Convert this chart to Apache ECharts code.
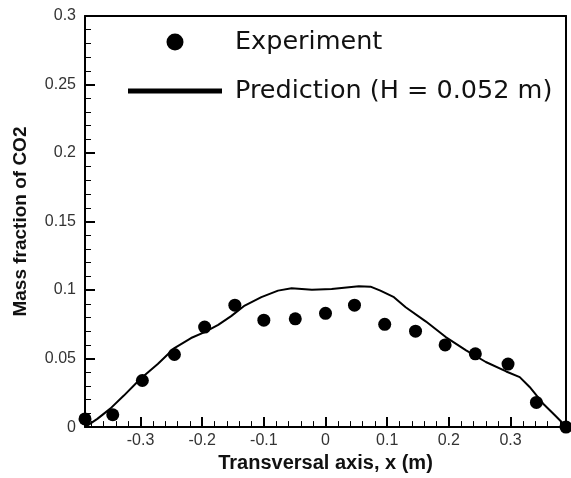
<!DOCTYPE html>
<html>
<head>
<meta charset="utf-8">
<script src="https://cdn.jsdelivr.net/npm/echarts@6/dist/echarts.min.js"></script>
<style>
html,body{margin:0;padding:0;background:#fff;}
#chart{width:571px;height:478px;}
</style>
</head>
<body>
<div id="chart"></div>
<script>
// Experiment points
var expX = [-0.39, -0.345, -0.297, -0.245, -0.196, -0.147, -0.1, -0.049, 0, 0.047, 0.096, 0.146, 0.194, 0.243, 0.296, 0.342, 0.39];
var expY = [0.006, 0.009, 0.034, 0.053, 0.073, 0.089, 0.078, 0.079, 0.083, 0.089, 0.075, 0.070, 0.060, 0.0535, 0.046, 0.018, 0.0];
// Prediction curve
var predX = [-0.39, -0.37, -0.349, -0.327, -0.3, -0.272, -0.245, -0.218, -0.196, -0.174, -0.153, -0.131, -0.104, -0.077, -0.055, -0.022, 0.010, 0.054, 0.073, 0.089, 0.111, 0.130, 0.163, 0.195, 0.228, 0.26, 0.293, 0.315, 0.331, 0.353, 0.372, 0.388, 0.39];
var predY = [0.0, 0.006, 0.0135, 0.023, 0.0353, 0.046, 0.0577, 0.065, 0.0693, 0.0746, 0.081, 0.0887, 0.0948, 0.0996, 0.1013, 0.1003, 0.1008, 0.1028, 0.1025, 0.0996, 0.0948, 0.0875, 0.077, 0.0657, 0.056, 0.0475, 0.0406, 0.0365, 0.0293, 0.0171, 0.0086, 0.0013, 0.0];
var seriesNames = ['Experiment', 'Prediction (H = 0.052 m)'];
var xName = 'Transversal axis, x (m)';
var yName = 'Mass fraction of CO2';

function zip(a, b) { return a.map(function (v, i) { return [v, b[i]]; }); }

function frameAxis(extra) {
  return Object.assign({
    type: 'value',
    axisLine: {show: true, onZero: false, lineStyle: {color: '#000', width: 2}},
    axisTick: {show: false}, minorTick: {show: false},
    axisLabel: {show: false}, splitLine: {show: false}
  }, extra);
}
function tickAxis(extra) {
  return Object.assign({
    type: 'value',
    axisLine: {show: false, onZero: false},
    axisTick: {show: true, inside: true, length: 10, lineStyle: {color: '#000', width: 2}},
    minorTick: {show: true, splitNumber: 5, length: 6, lineStyle: {color: '#000', width: 1}},
    axisLabel: {show: false}, splitLine: {show: false}
  }, extra);
}

var chart = echarts.init(document.getElementById('chart'), null, {renderer: 'canvas'});
chart.setOption({
  animation: false,
  backgroundColor: '#fff',
  grid: {left: 85, right: 5, top: 16, bottom: 49, containLabel: false, show: false},
  legend: {
    orient: 'vertical', left: 128, top: 29, padding: 0,
    itemWidth: 94, itemHeight: 17, itemGap: 23, symbolKeepAspect: true,
    textStyle: {fontFamily: 'DejaVu Sans', fontSize: 25.5, color: '#111', padding: [0, 0, 0, 8]},
    data: [
      {name: seriesNames[0], icon: 'circle', itemStyle: {color: '#000', opacity: 1}},
      {name: seriesNames[1], icon: 'path://M0,0H94V5H0Z', itemStyle: {color: '#000', opacity: 1}}
    ]
  },
  xAxis: [
    {
      type: 'value', min: -0.39, max: 0.39, splitNumber: 8, position: 'bottom',
      name: xName, nameLocation: 'middle', nameGap: 23,
      nameTextStyle: {fontFamily: 'Liberation Sans', fontWeight: 'bold', fontSize: 20, color: '#111'},
      axisLine: {show: true, onZero: false, lineStyle: {color: '#000', width: 2}},
      axisTick: {show: false}, minorTick: {show: false},
      splitLine: {show: false},
      axisLabel: {showMinLabel: false, showMaxLabel: false, margin: 5,
                  fontFamily: 'Liberation Sans', fontSize: 16, color: '#333'}
    },
    tickAxis({min: -0.39, max: 0.39, splitNumber: 8, position: 'bottom'}),
    frameAxis({min: -0.39, max: 0.39, position: 'top'})
  ],
  yAxis: [
    {
      type: 'value', min: 0, max: 0.3, interval: 0.05, position: 'left',
      name: yName, nameLocation: 'middle', nameGap: 55, nameRotate: 90,
      nameTextStyle: {fontFamily: 'Liberation Sans', fontWeight: 'bold', fontSize: 19, color: '#111'},
      axisLine: {show: true, onZero: false, lineStyle: {color: '#000', width: 2}},
      axisTick: {show: false}, minorTick: {show: false},
      splitLine: {show: false},
      axisLabel: {margin: 9, fontFamily: 'Liberation Sans', fontSize: 16, color: '#333'}
    },
    tickAxis({min: 0, max: 0.3, interval: 0.05, position: 'left'}),
    frameAxis({min: 0, max: 0.3, position: 'right'})
  ],
  series: [
    {
      name: seriesNames[1], type: 'line', data: zip(predX, predY),
      xAxisIndex: 0, yAxisIndex: 0,
      symbol: 'none', smooth: false,
      lineStyle: {color: '#000', width: 2}, itemStyle: {color: '#000'}, z: 2
    },
    {
      name: seriesNames[0], type: 'scatter', data: zip(expX, expY),
      xAxisIndex: 0, yAxisIndex: 0,
      symbol: 'circle', symbolSize: 13, itemStyle: {color: '#000', opacity: 1}, z: 3
    }
  ]
});
</script>
</body>
</html>
